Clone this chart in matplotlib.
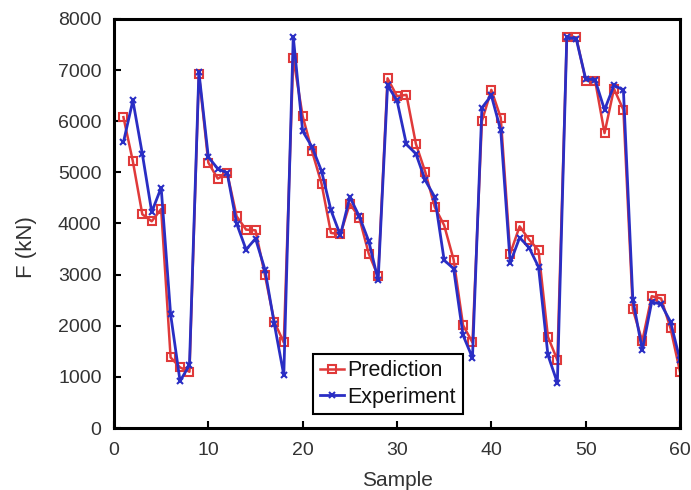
import matplotlib
matplotlib.use("Agg")
import matplotlib.pyplot as plt

samples = list(range(1, 61))
prediction = [6080, 5215, 4180, 4043, 4284, 1380, 1185, 1100, 6920, 5190,
              4877, 4987, 4141, 3880, 3867, 2988, 2076, 1673, 7240, 6100,
              5410, 4779, 3815, 3790, 4388, 4115, 3411, 2969, 6840, 6490,
              6517, 5560, 5006, 4323, 3965, 3294, 2012, 1673, 6002, 6615,
              6068, 3411, 3945, 3685, 3477, 1783, 1328, 7643, 7643, 6797,
              6797, 5768, 6634, 6224, 2318, 1700, 2578, 2533, 1947, 1100]
experiment = [5590, 6406, 5365, 4225, 4701, 2227, 918, 1230, 6960, 5300,
              5072, 4987, 3998, 3490, 3705, 3100, 2031, 1035, 7656, 5807,
              5494, 5026, 4258, 3770, 4518, 4141, 3658, 2890, 6700, 6406,
              5547, 5365, 4844, 4518, 3281, 3118, 1816, 1373, 6263, 6504,
              5820, 3229, 3724, 3529, 3151, 1426, 885, 7643, 7610, 6830,
              6810, 6224, 6700, 6615, 2513, 1523, 2467, 2422, 2076, 1328]
xticks = [0, 10, 20, 30, 40, 50, 60]
yticks = [0, 1000, 2000, 3000, 4000, 5000, 6000, 7000, 8000]

plt.rcParams['font.family'] = ['Liberation Sans', 'DejaVu Sans']
fig = plt.figure(figsize=(6.91, 4.90), dpi=100)
ax = fig.add_axes([114/691, 1-428/490, 566/691, 409/490])

red = '#e03a3a'
blue = '#2a2ec4'
ax.plot(samples, prediction, color=red, lw=1.8, marker='s', ms=6,
        mfc='none', mec=red, mew=1.5, label='Prediction')
ax.plot(samples, experiment, color=blue, lw=2.0, marker='x', ms=5,
        mec=blue, mew=1.5, label='Experiment')

ax.set_xlim(0, 60)
ax.set_ylim(0, 8000)
ax.set_xticks(xticks)
ax.set_yticks(yticks)
txtc = '#333333'
ax.tick_params(direction='in', length=5, width=1.5, labelsize=14,
               labelcolor=txtc, top=False, right=False)
ax.tick_params(axis='y', pad=9)
ax.tick_params(axis='x', pad=10)
for s in ax.spines.values():
    s.set_linewidth(2.2)
    s.set_color('black')
ax.set_xlabel('Sample', fontsize=15, color=txtc)
ax.set_ylabel('F (kN)', fontsize=16, color=txtc)
ax.xaxis.set_label_coords(0.5, -0.105)
ax.yaxis.set_label_coords(-0.136, 0.443)

leg = ax.legend(loc='lower left', bbox_to_anchor=(0.352, 0.034), fontsize=15.5,
                frameon=True, fancybox=False, framealpha=1, edgecolor='black',
                borderpad=0.3, handlelength=1.15, handletextpad=0.15,
                labelspacing=0.25, borderaxespad=0)
leg.get_frame().set_linewidth(1.5)
for t in leg.get_texts():
    t.set_color('#111111')

fig.savefig('out.png', dpi=100)
